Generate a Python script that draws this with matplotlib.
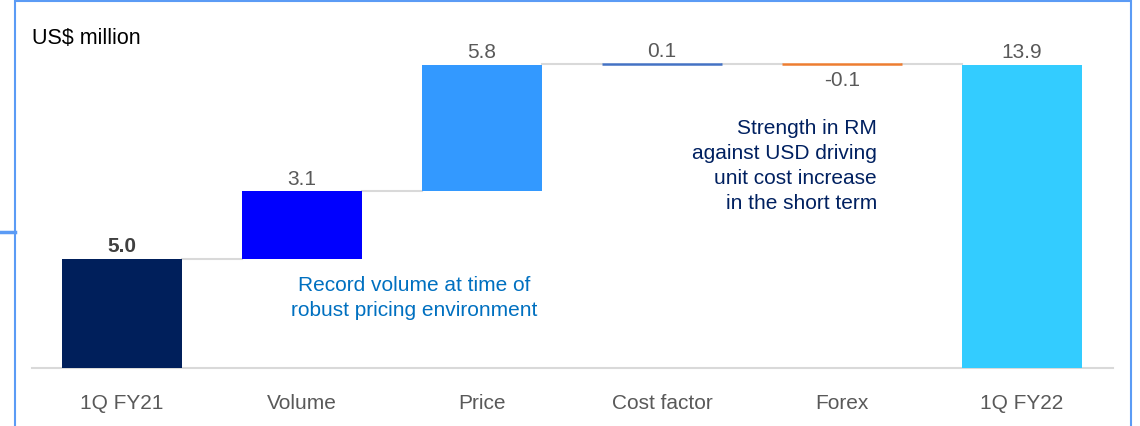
import matplotlib
matplotlib.use("Agg")
import matplotlib.pyplot as plt
from matplotlib.patches import Rectangle
from matplotlib.lines import Line2D

# data
categories = ["1Q FY21", "Volume", "Price", "Cost factor", "Forex", "1Q FY22"]
values = [5.0, 3.1, 5.8, 0.1, -0.1, 13.9]
is_total = [True, False, False, False, False, True]
labels = ["5.0", "3.1", "5.8", "0.1", "-0.1", "13.9"]
colors = ["#001F5B", "#0000FF", "#3399FF", "#4472C4", "#ED7D31", "#33CCFF"]

W, H = 1140, 427
fig = plt.figure(figsize=(W / 100, H / 100), dpi=100)
plt.rcParams['font.family'] = ['Liberation Sans', 'DejaVu Sans']
fs = 15

# axes in pixel terms: baseline at y=369, x from 32 to 1113
ax = fig.add_axes([32 / W, (H - 369) / H, (1113 - 32) / W, (369 - 10) / H])
ax.set_xlim(-0.5, 5.505)
ax.set_ylim(0, (369 - 10) / 21.8)
ax.axis("off")

bw = 0.667
running = 0
tops = []
for i, (v, tot) in enumerate(zip(values, is_total)):
    if tot:
        bottom, height = 0, v
        running = v
    else:
        bottom = running if v >= 0 else running + v
        height = abs(v)
        running += v
    if abs(v) < 0.5 and not tot:
        # tiny steps drawn as a thin line
        ax.plot([i - bw / 2, i + bw / 2], [13.95] * 2,
                color=colors[i], lw=1.8, solid_capstyle="butt", zorder=3)
    else:
        ax.bar(i, height, bottom=bottom, width=bw, color=colors[i], zorder=2)
    tops.append(running)

# connectors between bars
for i in range(len(values) - 1):
    lvl = tops[i] if i < 2 else 13.95
    ax.plot([i + bw / 2, i + 1 - bw / 2], [lvl, lvl], color="#D9D9D9", lw=1.5, zorder=1)

# baseline
ax.plot([-0.5, 5.505], [0, 0], color="#D9D9D9", lw=1.5, clip_on=False, zorder=1)

# value labels
for i, (v, lab) in enumerate(zip(values, labels)):
    y = tops[i] if i < 3 or i == 5 else 13.95
    if v < 0:
        ax.annotate(lab, (i, y), xytext=(0, -11), textcoords="offset points",
                    ha="center", va="center", fontsize=fs, color="#595959")
    else:
        ax.annotate(lab, (i, y), xytext=(0, 9.5), textcoords="offset points",
                    ha="center", va="center", fontsize=fs, color="#404040" if i == 0 else "#595959",
                    fontweight="bold" if i == 0 else "normal")

# category labels
for i, c in enumerate(categories):
    ax.annotate(c, (i, 0), xytext=(0, -25), textcoords="offset points",
                ha="center", va="center", fontsize=fs, color="#595959")

# notes
fig.text(414 / W, 1 - 298 / H, "Record volume at time of\nrobust pricing environment",
         ha="center", va="center", fontsize=fs, color="#0070C0", linespacing=1.38, multialignment="center")
fig.text(877 / W, 1 - 166 / H, "Strength in RM\nagainst USD driving\nunit cost increase\nin the short term",
         ha="right", va="center", fontsize=fs, color="#002060", linespacing=1.38, multialignment="right")
fig.text(32 / W, 1 - 38 / H, "US$ million", ha="left", va="center", fontsize=15.5, color="black")

# frame around the chart and the small tick on the left
fig.add_artist(Rectangle((15 / W, -0.05), (1131 - 15) / W, 1 - 1.5 / H + 0.05,
                         transform=fig.transFigure, fill=False, edgecolor="#5B9BF5", lw=1.5))
fig.add_artist(Line2D([0, 15 / W], [1 - 233 / H] * 2, transform=fig.transFigure,
                      color="#5B9BF5", lw=2.5))

fig.savefig("out.png", dpi=100)
